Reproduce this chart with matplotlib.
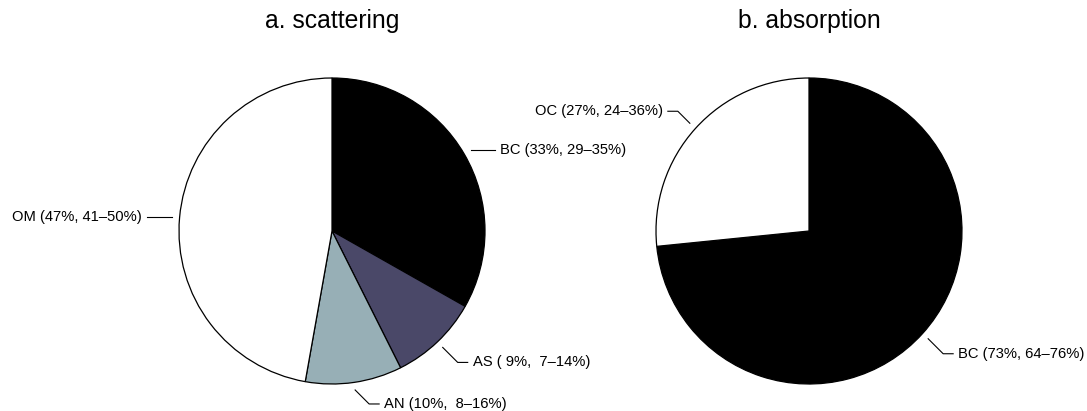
"""Pie charts of scattering and absorption contributions"""

import numpy as np
import matplotlib
matplotlib.use("Agg")
import matplotlib.pyplot as plt

plt.rcParams['font.family'] = ['Liberation Sans', 'DejaVu Sans']

# data
scat_names = ["BC", "AS", "AN", "OM"]
scat_values = [33.2, 9.4, 10.2, 47.2]
scat_labels = ["BC (33%, 29\u201335%)", "AS ( 9%,  7\u201314%)",
               "AN (10%,  8\u201316%)", "OM (47%, 41\u201350%)"]
scat_colors = ["black", "#4a4868", "#97afb6", "white"]

abs_names = ["BC", "OC"]
abs_values = [73.4, 26.6]
abs_labels = ["BC (73%, 64\u201376%)", "OC (27%, 24\u201336%)"]
abs_colors = ["black", "white"]

# label leader style (pixels): diagonal drop, horizontal run
scat_leader = [(0, 24), (15, 10), (14, 10), (0, 25)]
abs_leader = [(15, 10), (12, 10)]

R = 153


def draw_pie(ax, values, colors, labels, leaders, center, title):
    ax.pie(values, colors=colors, startangle=90, counterclock=False,
           radius=R, center=center,
           wedgeprops=dict(edgecolor="black", linewidth=0.9))
    total = float(sum(values))
    cum = np.cumsum([0] + list(values)) / total
    for i, lab in enumerate(labels):
        mid = (cum[i] + cum[i + 1]) / 2
        ang = np.deg2rad(90 - 360 * mid)
        x0 = center[0] + 1.05 * R * np.cos(ang)
        y0 = center[1] + 1.05 * R * np.sin(ang)
        side = 1 if np.cos(ang) >= 0 else -1
        vdir = 1 if np.sin(ang) >= 0 else -1
        d, h = leaders[i]
        x1 = x0 + side * d
        y1 = y0 + vdir * d
        x2 = x1 + side * h
        ax.plot([x0, x1, x2], [y0, y1, y1], color="black", lw=0.8)
        ax.text(x2 + side * 5, y1, lab, ha="left" if side > 0 else "right",
                va="center", fontsize=10.6)
    ax.text(center[0], 383, title, ha="center", va="baseline", fontsize=17.8)


fig = plt.figure(figsize=(10.87, 4.11), dpi=100)
ax = fig.add_axes([0, 0, 1, 1])

draw_pie(ax, scat_values, scat_colors, scat_labels, scat_leader,
         (332, 180), "a. scattering")
draw_pie(ax, abs_values, abs_colors, abs_labels, abs_leader,
         (809, 180), "b. absorption")

ax.set_xlim(0, 1087)
ax.set_ylim(0, 411)
ax.set_aspect("equal")
ax.axis("off")

fig.savefig("out.png", dpi=100)
